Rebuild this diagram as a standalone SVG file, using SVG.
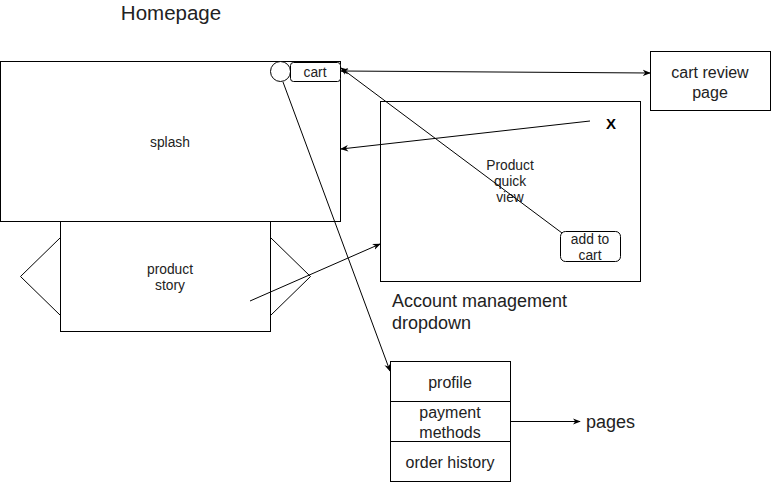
<svg xmlns="http://www.w3.org/2000/svg" width="771" height="482" viewBox="0 0 771 482">
<defs>
<style>
.s{fill:#fff;stroke:#000;stroke-width:1}
.t{font-family:"Liberation Sans",Arial,sans-serif;fill:#222;text-anchor:middle}
.l{font-family:"Liberation Sans",Arial,sans-serif;fill:#222}
.f12{font-size:13.8px}
.f14{font-size:16px}
.f16{font-size:18px}
.c{fill:none;stroke:#000;stroke-width:1}
</style>
<marker id="ah" viewBox="0 0 10 10" refX="9" refY="5" markerWidth="8" markerHeight="8" orient="auto-start-reverse" markerUnits="userSpaceOnUse">
<path d="M0,1 L10,5 L0,9 L3,5 Z" fill="#000"/>
</marker>
</defs>
<rect width="771" height="482" fill="#fff"/>
<text class="t" x="171" y="20" style="font-size:20.5px">Homepage</text>
<g id="splash">
<rect class="s" x="0.5" y="61.5" width="340" height="160"/>
<text class="t f12" x="170" y="147">splash</text>
</g>
<g id="circle">
<circle class="s" cx="280.5" cy="71.5" r="10"/>
</g>
<g id="cart">
<rect class="s" x="290.5" y="62.5" width="50" height="19" rx="3"/>
<text class="t f12" x="315" y="77">cart</text>
</g>
<g id="product-story">
<polygon class="s" points="60.5,237.5 20.5,276.5 60.5,315.5"/>
<polygon class="s" points="270.5,237.5 310.5,276.5 270.5,315.5"/>
<rect class="s" x="60.5" y="221.5" width="210" height="110"/>
<text class="t f12" x="170" y="274">product</text>
<text class="t f12" x="170" y="290">story</text>
</g>
<g id="quick-view">
<rect class="s" x="380.5" y="101.5" width="260" height="180"/>
<text class="t f12" x="510" y="170">Product</text>
<text class="t f12" x="510" y="186">quick</text>
<text class="t f12" x="510" y="202">view</text>
<text x="611" y="129" style="font-family:'Liberation Sans',Arial,sans-serif;font-size:15px;font-weight:bold;text-anchor:middle;fill:#000">X</text>
</g>
<g id="add-to-cart">
<rect class="s" x="560.5" y="231.5" width="60" height="30" rx="5"/>
<text class="t f12" x="590" y="244">add to</text>
<text class="t f12" x="590" y="260">cart</text>
</g>
<g id="cart-review">
<rect class="s" x="650.5" y="51.5" width="120" height="59"/>
<text class="t f14" x="710" y="78">cart review</text>
<text class="t f14" x="710" y="98">page</text>
</g>
<g id="account-label">
<text class="l f16" x="392" y="307">Account management</text>
<text class="l f16" x="392" y="329">dropdown</text>
</g>
<g id="account-menu">
<rect class="s" x="390.5" y="361.5" width="120" height="40"/>
<text class="t f14" x="450" y="388">profile</text>
<rect class="s" x="390.5" y="401.5" width="120" height="40"/>
<text class="t f14" x="450" y="418">payment</text>
<text class="t f14" x="450" y="438">methods</text>
<rect class="s" x="390.5" y="441.5" width="120" height="40"/>
<text class="t f14" x="450" y="468">order history</text>
</g>
<g id="pages">
<text class="l f16" x="586" y="428">pages</text>
</g>
<g id="connectors">
<line class="c" x1="341" y1="71" x2="650" y2="73" marker-start="url(#ah)" marker-end="url(#ah)"/>
<line class="c" x1="562" y1="233" x2="341" y2="68" marker-end="url(#ah)"/>
<line class="c" x1="590" y1="121" x2="341" y2="149" marker-end="url(#ah)"/>
<line class="c" x1="250" y1="301" x2="380" y2="244" marker-end="url(#ah)"/>
<line class="c" x1="283" y1="82" x2="390" y2="371" marker-end="url(#ah)"/>
<line class="c" x1="510" y1="421.5" x2="580" y2="421.5" marker-end="url(#ah)"/>
</g>
</svg>
